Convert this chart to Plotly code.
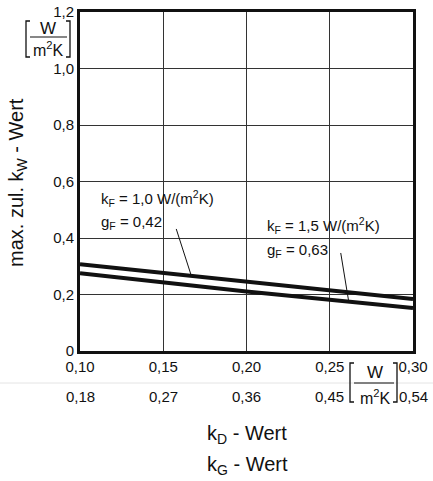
import numpy as np
import plotly.graph_objects as go

# ---- data ----
k_D = [0.10, 0.20, 0.30]                      # x values (k_D - Wert)
kw_kF10 = [0.307, 0.245, 0.184]               # k_F = 1,0 W/(m2K), g_F = 0,42
kw_kF15 = [0.275, 0.211, 0.152]               # k_F = 1,5 W/(m2K), g_F = 0,63

x_ticks = [0.10, 0.15, 0.20, 0.25, 0.30]
x_ticktext_D = ["0,10", "0,15", "0,20", "0,25", "0,30"]
x_ticktext_G = ["0,18", "0,27", "0,36", "0,45", "0,54"]
y_ticks = [0, 0.2, 0.4, 0.6, 0.8, 1.0, 1.2]
y_ticktext = ["0", "0,2", "0,4", "0,6", "0,8", "1,0", "1,2"]

# ---- layout geometry (pixels) ----
W, H = 433, 481
L, R, T, B = 80, 20, 12, 130
PW, PH = W - L - R, H - T - B
FONT = "Liberation Sans, Arial, sans-serif"
INK = "#111111"


def px(x):
    return (x - L) / PW


def py(y):
    return (H - B - y) / PH


fig = go.Figure()
fig.add_trace(go.Scatter(x=k_D, y=kw_kF10, mode="lines",
                         line=dict(color=INK, width=4), showlegend=False))
fig.add_trace(go.Scatter(x=k_D, y=kw_kF15, mode="lines",
                         line=dict(color=INK, width=4), showlegend=False))

shapes = []
annotations = []

# white boxes behind the labels (interrupt the grid)
shapes.append(dict(type="rect", xref="paper", yref="paper", layer="between",
                   x0=px(97), x1=px(223), y0=py(237), y1=py(184),
                   fillcolor="white", line=dict(width=0)))
shapes.append(dict(type="rect", xref="paper", yref="paper", layer="between",
                   x0=px(262), x1=px(397), y0=py(267), y1=py(200),
                   fillcolor="white", line=dict(width=0)))

# labels
lab_font = dict(family=FONT, size=15, color=INK)
annotations += [
    dict(text="k<sub>F</sub> = 1,0 W/(m<sup>2</sup>K)", xref="paper", yref="paper",
         x=px(99), y=py(198), xanchor="left", yanchor="middle", showarrow=False, font=lab_font),
    dict(text="g<sub>F</sub> = 0,42", xref="paper", yref="paper",
         x=px(99), y=py(222), xanchor="left", yanchor="middle", showarrow=False, font=lab_font),
    dict(text="k<sub>F</sub> = 1,5 W/(m<sup>2</sup>K)", xref="paper", yref="paper",
         x=px(265), y=py(225), xanchor="left", yanchor="middle", showarrow=False, font=lab_font),
    dict(text="g<sub>F</sub> = 0,63", xref="paper", yref="paper",
         x=px(265), y=py(250), xanchor="left", yanchor="middle", showarrow=False, font=lab_font),
]

# pointer lines to the curves
x_end1 = 0.1669
shapes.append(dict(type="line", xref="x", yref="y", x0=0.1578, y0=0.432,
                   x1=x_end1, y1=float(np.interp(x_end1, k_D, kw_kF10)),
                   line=dict(color=INK, width=1)))
x_end2 = 0.2614
shapes.append(dict(type="line", xref="x", yref="y", x0=0.2566, y0=0.347,
                   x1=x_end2, y1=float(np.interp(x_end2, k_D, kw_kF15)),
                   line=dict(color=INK, width=1)))

# faint scan line
shapes.append(dict(type="line", xref="paper", yref="paper", x0=px(0), x1=px(433),
                   y0=py(383), y1=py(383), line=dict(color="#e4e4e4", width=1)))


def unit_bracket(xl, xr, ytop, ybot, ybar, cx, yw, ym):
    s = 4
    shapes.append(dict(type="path", xref="paper", yref="paper",
                       path=f"M {px(xl+s)},{py(ytop)} L {px(xl)},{py(ytop)} L {px(xl)},{py(ybot)} L {px(xl+s)},{py(ybot)}",
                       line=dict(color=INK, width=1.3)))
    shapes.append(dict(type="path", xref="paper", yref="paper",
                       path=f"M {px(xr-s)},{py(ytop)} L {px(xr)},{py(ytop)} L {px(xr)},{py(ybot)} L {px(xr-s)},{py(ybot)}",
                       line=dict(color=INK, width=1.3)))
    shapes.append(dict(type="line", xref="paper", yref="paper",
                       x0=px(xl + 4), x1=px(xr - 3), y0=py(ybar), y1=py(ybar),
                       line=dict(color=INK, width=1.2)))
    f = dict(family=FONT, size=17, color=INK)
    annotations.append(dict(text="W", xref="paper", yref="paper", x=px(cx), y=py(yw),
                            xanchor="center", yanchor="middle", showarrow=False, font=f))
    annotations.append(dict(text="m<sup>2</sup>K", xref="paper", yref="paper", x=px(cx), y=py(ym),
                            xanchor="center", yanchor="middle", showarrow=False,
                            font=dict(family=FONT, size=16, color=INK)))


unit_bracket(26, 70, 21, 57, 37, 48, 28, 49)
unit_bracket(350, 397, 363, 402, 383, 375, 372, 397)

# second row of x tick labels (k_G)
for xv, t in zip(x_ticks, x_ticktext_G):
    annotations.append(dict(text=t, xref="x", yref="paper", x=xv, y=py(397),
                            xanchor="center", yanchor="middle", showarrow=False,
                            font=dict(family=FONT, size=15, color=INK)))

# axis titles
annotations.append(dict(text="max. zul. k<sub>W</sub> - Wert", xref="paper", yref="paper",
                        x=px(17), y=py(183), textangle=-90, xanchor="center", yanchor="middle",
                        showarrow=False, font=dict(family=FONT, size=20, color=INK)))
annotations.append(dict(text="k<sub>D</sub> - Wert", xref="paper", yref="paper",
                        x=px(247), y=py(434), xanchor="center", yanchor="middle",
                        showarrow=False, font=dict(family=FONT, size=20, color=INK)))
annotations.append(dict(text="k<sub>G</sub> - Wert", xref="paper", yref="paper",
                        x=px(247), y=py(465), xanchor="center", yanchor="middle",
                        showarrow=False, font=dict(family=FONT, size=20, color=INK)))

fig.update_layout(
    width=W, height=H,
    margin=dict(l=L, r=R, t=T, b=B, autoexpand=False),
    paper_bgcolor="white", plot_bgcolor="white",
    font=dict(family=FONT, size=15, color=INK),
    shapes=shapes, annotations=annotations,
    xaxis=dict(range=[0.10, 0.30], tickvals=x_ticks, ticktext=x_ticktext_D,
               showgrid=True, gridcolor="#333333", gridwidth=1, zeroline=False,
               showline=True, linecolor=INK, linewidth=3, mirror=True,
               ticks="", tickfont=dict(family=FONT, size=15, color=INK)),
    yaxis=dict(range=[0, 1.2], tickvals=y_ticks, ticktext=y_ticktext,
               showgrid=True, gridcolor="#333333", gridwidth=1, zeroline=False,
               showline=True, linecolor=INK, linewidth=3, mirror=True,
               ticks="", tickfont=dict(family=FONT, size=15, color=INK)),
)

fig.write_html("out.html", config={"displayModeBar": False},
               post_script="document.body.style.margin='0px';document.body.style.overflow='hidden';")
